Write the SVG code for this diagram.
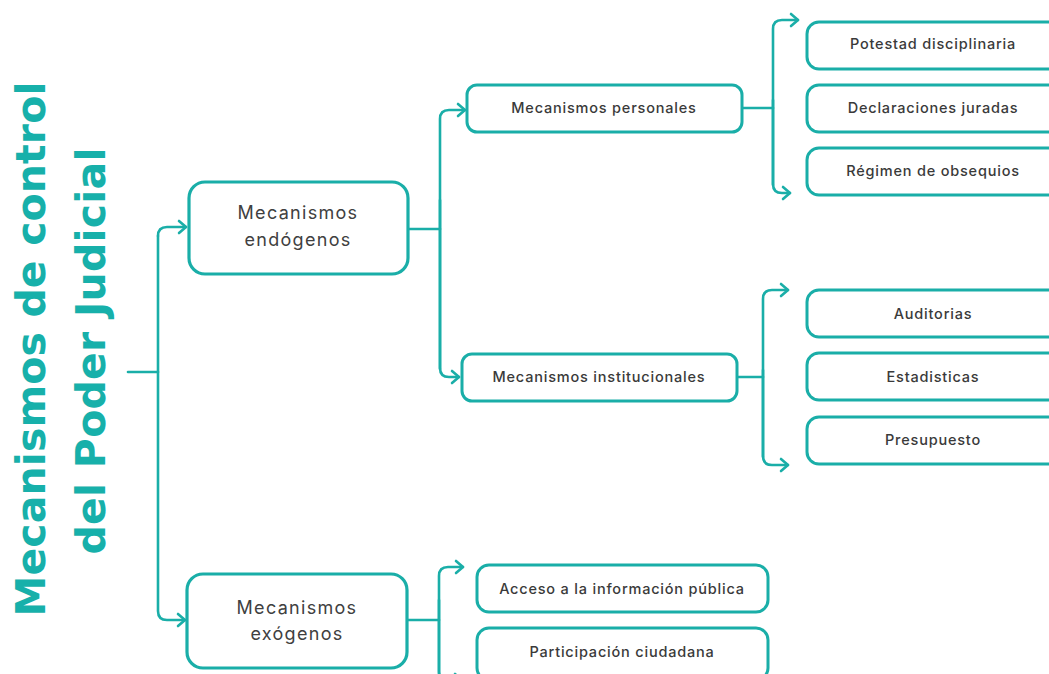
<svg xmlns="http://www.w3.org/2000/svg" width="1049" height="674" viewBox="0 0 1049 674">
<defs>
<style>
.box{fill:#fff;stroke:#1aaea8;stroke-width:3}
.big{fill:#fff;stroke:#1aaea8;stroke-width:3.2}
.lbl{font-family:Inter,"Open Sans",sans-serif;font-size:14.5px;font-weight:500;letter-spacing:0.8px;fill:#3a3a3a;text-anchor:middle}
.lbl2{font-family:Inter,"Open Sans",sans-serif;font-size:18px;font-weight:400;letter-spacing:1.3px;fill:#404040;text-anchor:middle}
.title{font-family:"DejaVu Sans","Liberation Sans",sans-serif;font-weight:bold;font-size:41px;fill:#17b0aa;text-anchor:middle}
.ln{fill:none;stroke:#1aaea8;stroke-width:2.6;stroke-linecap:round;stroke-linejoin:round}
</style>
<marker id="ah" markerUnits="userSpaceOnUse" markerWidth="14" markerHeight="16" viewBox="0 0 14 16" refX="11" refY="8" orient="auto">
<path d="M4,2 L11,8 L4,14" fill="none" stroke="#1aaea8" stroke-width="2.6" stroke-linecap="round" stroke-linejoin="round"/>
</marker>
</defs>
<rect width="1049" height="674" fill="#fff"/>
<g id="title">
<text class="title" transform="translate(45,349) rotate(-90)" textLength="535" lengthAdjust="spacing">Mecanismos de control</text>
<text class="title" transform="translate(105,351) rotate(-90)" textLength="407" lengthAdjust="spacing">del Poder Judicial</text>
</g>
<g id="connectors">
<path class="ln" d="M128,372 H158"/>
<path class="ln" d="M158,236 Q158,227 167,227 H186" marker-end="url(#ah)"/>
<path class="ln" d="M158,236 V611 Q158,620 167,620 H185" marker-end="url(#ah)"/>
<path class="ln" d="M408,229 H440"/>
<path class="ln" d="M440,369 V119 Q440,110 449,110 H465" marker-end="url(#ah)"/>
<path class="ln" d="M440,200 V368 Q440,377 449,377 H459" marker-end="url(#ah)"/>
<path class="ln" d="M742,108 H773"/>
<path class="ln" d="M773,185 V29 Q773,20 782,20 H798" marker-end="url(#ah)"/>
<path class="ln" d="M773,100 V184 Q773,193 782,193 H790" marker-end="url(#ah)"/>
<path class="ln" d="M737,377 H763"/>
<path class="ln" d="M763,457 V299 Q763,290 772,290 H788" marker-end="url(#ah)"/>
<path class="ln" d="M763,370 V456 Q763,465 772,465 H788" marker-end="url(#ah)"/>
<path class="ln" d="M407,620 H439"/>
<path class="ln" d="M439,680 V576 Q439,567 448,567 H463" marker-end="url(#ah)"/>
<path class="ln" d="M439,600 V671 Q439,680 448,680 H462" marker-end="url(#ah)"/>
</g>
<g id="endogenos">
<rect class="big" x="189" y="182" width="219" height="92" rx="16"/>
<text class="lbl2" x="298" y="219">Mecanismos</text>
<text class="lbl2" x="298" y="246">endógenos</text>
</g>
<g id="exogenos">
<rect class="big" x="187" y="574" width="220" height="94" rx="16"/>
<text class="lbl2" x="297" y="614">Mecanismos</text>
<text class="lbl2" x="297" y="640">exógenos</text>
</g>
<g id="personales">
<rect class="box" x="467" y="85" width="275" height="47" rx="10"/>
<text class="lbl" x="604" y="113">Mecanismos personales</text>
</g>
<g id="institucionales">
<rect class="box" x="462" y="354" width="275" height="47" rx="10"/>
<text class="lbl" x="599" y="382">Mecanismos institucionales</text>
</g>
<g id="potestad">
<rect class="box" x="807" y="22" width="260" height="47" rx="12"/>
<text class="lbl" x="933" y="49">Potestad disciplinaria</text>
</g>
<g id="declaraciones">
<rect class="box" x="807" y="85" width="260" height="47" rx="12"/>
<text class="lbl" x="933" y="113">Declaraciones juradas</text>
</g>
<g id="regimen">
<rect class="box" x="807" y="148" width="260" height="47" rx="12"/>
<text class="lbl" x="933" y="176">Régimen de obsequios</text>
</g>
<g id="auditorias">
<rect class="box" x="807" y="290" width="260" height="47" rx="12"/>
<text class="lbl" x="933" y="319">Auditorias</text>
</g>
<g id="estadisticas">
<rect class="box" x="807" y="353" width="260" height="47" rx="12"/>
<text class="lbl" x="933" y="382">Estadisticas</text>
</g>
<g id="presupuesto">
<rect class="box" x="807" y="417" width="260" height="47" rx="12"/>
<text class="lbl" x="933" y="445">Presupuesto</text>
</g>
<g id="acceso">
<rect class="box" x="477" y="565" width="291" height="47" rx="12"/>
<text class="lbl" x="622" y="594">Acceso a la información pública</text>
</g>
<g id="participacion">
<rect class="box" x="477" y="628" width="291" height="52" rx="12"/>
<text class="lbl" x="622" y="657">Participación ciudadana</text>
</g>
</svg>
